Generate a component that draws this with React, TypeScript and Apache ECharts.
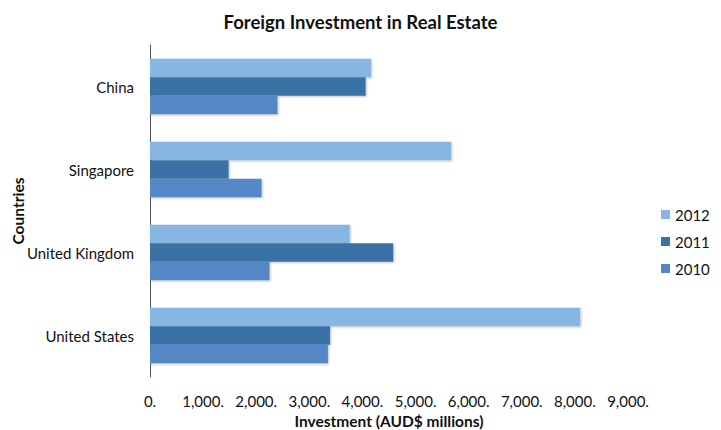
import React, { useEffect, useRef } from "react";
import * as echarts from "echarts";

const categories = ["China", "Singapore", "United Kingdom", "United States"];
const years = ["2012", "2011", "2010"];
const values2012 = [4160, 5670, 3760, 8100];
const values2011 = [4060, 1480, 4580, 3390];
const values2010 = [2400, 2100, 2250, 3350];
const xTicks = [0, 1000, 2000, 3000, 4000, 5000, 6000, 7000, 8000, 9000];

const colors: Record<string, string> = {
  "2012": "#88B6E2",
  "2011": "#3A72A6",
  "2010": "#5486C6",
};

const FONT = "Lato, 'Open Sans', sans-serif";

export default function App() {
  const ref = useRef<HTMLDivElement>(null);
  useEffect(() => {
    if (!ref.current) return;
    const chart = echarts.init(ref.current, undefined, { renderer: "svg" });
    const seriesData: Record<string, number[]> = {
      "2012": values2012,
      "2011": values2011,
      "2010": values2010,
    };
    chart.setOption({
      animation: false,
      backgroundColor: "#ffffff",
      textStyle: { fontFamily: FONT },
      title: {
        text: "Foreign Investment in Real Estate",
        left: "center",
        top: 7,
        textStyle: { fontFamily: FONT, fontSize: 18.5, fontWeight: "bold", color: "#111" },
      },
      legend: {
        orient: "vertical",
        left: 656,
        top: 202,
        itemWidth: 9,
        itemHeight: 9,
        itemGap: 12,
        icon: "rect",
        data: years,
        textStyle: { fontFamily: FONT, fontSize: 15, color: "#111" },
      },
      grid: {
        left: 150,
        right: 93,
        top: 45,
        bottom: 53,
        containLabel: false,
        outerBoundsMode: "none",
      },
      xAxis: {
        type: "value",
        min: xTicks[0],
        max: xTicks[xTicks.length - 1],
        interval: 1000,
        name: "Investment (AUD$ millions)",
        nameLocation: "middle",
        nameGap: 32,
        nameTextStyle: { fontFamily: FONT, fontSize: 15.5, fontWeight: "bold", color: "#111" },
        axisLine: { show: false },
        axisTick: { show: false },
        splitLine: { show: false },
        axisLabel: {
          fontFamily: FONT,
          fontSize: 15,
          color: "#111",
          margin: 16,
          formatter: (v: number) => v.toLocaleString("en-US") + ".",
        },
      },
      yAxis: {
        type: "category",
        data: categories,
        inverse: true,
        name: "Countries",
        nameLocation: "middle",
        nameGap: 124,
        nameMoveOverlap: false,
        nameRotate: 90,
        nameTextStyle: { fontFamily: FONT, fontSize: 15.5, fontWeight: "bold", color: "#111" },
        axisLine: { show: true, lineStyle: { color: "#555", width: 1 } },
        axisTick: { show: false },
        axisLabel: { fontFamily: FONT, fontSize: 15, color: "#111", margin: 16 },
      },
      series: years.map((y) => ({
        name: y,
        type: "bar",
        data: seriesData[y],
        barCategoryGap: "33%",
        barGap: "0%",
        itemStyle: {
          color: colors[y],
          shadowColor: "rgba(0,0,0,0.25)",
          shadowBlur: 2,
          shadowOffsetX: 1,
          shadowOffsetY: 1,
        },
      })),
    });
    return () => chart.dispose();
  }, []);
  return (
    <div
      ref={ref}
      style={{ position: "fixed", left: 0, top: 0, width: 721, height: 430 }}
    />
  );
}
